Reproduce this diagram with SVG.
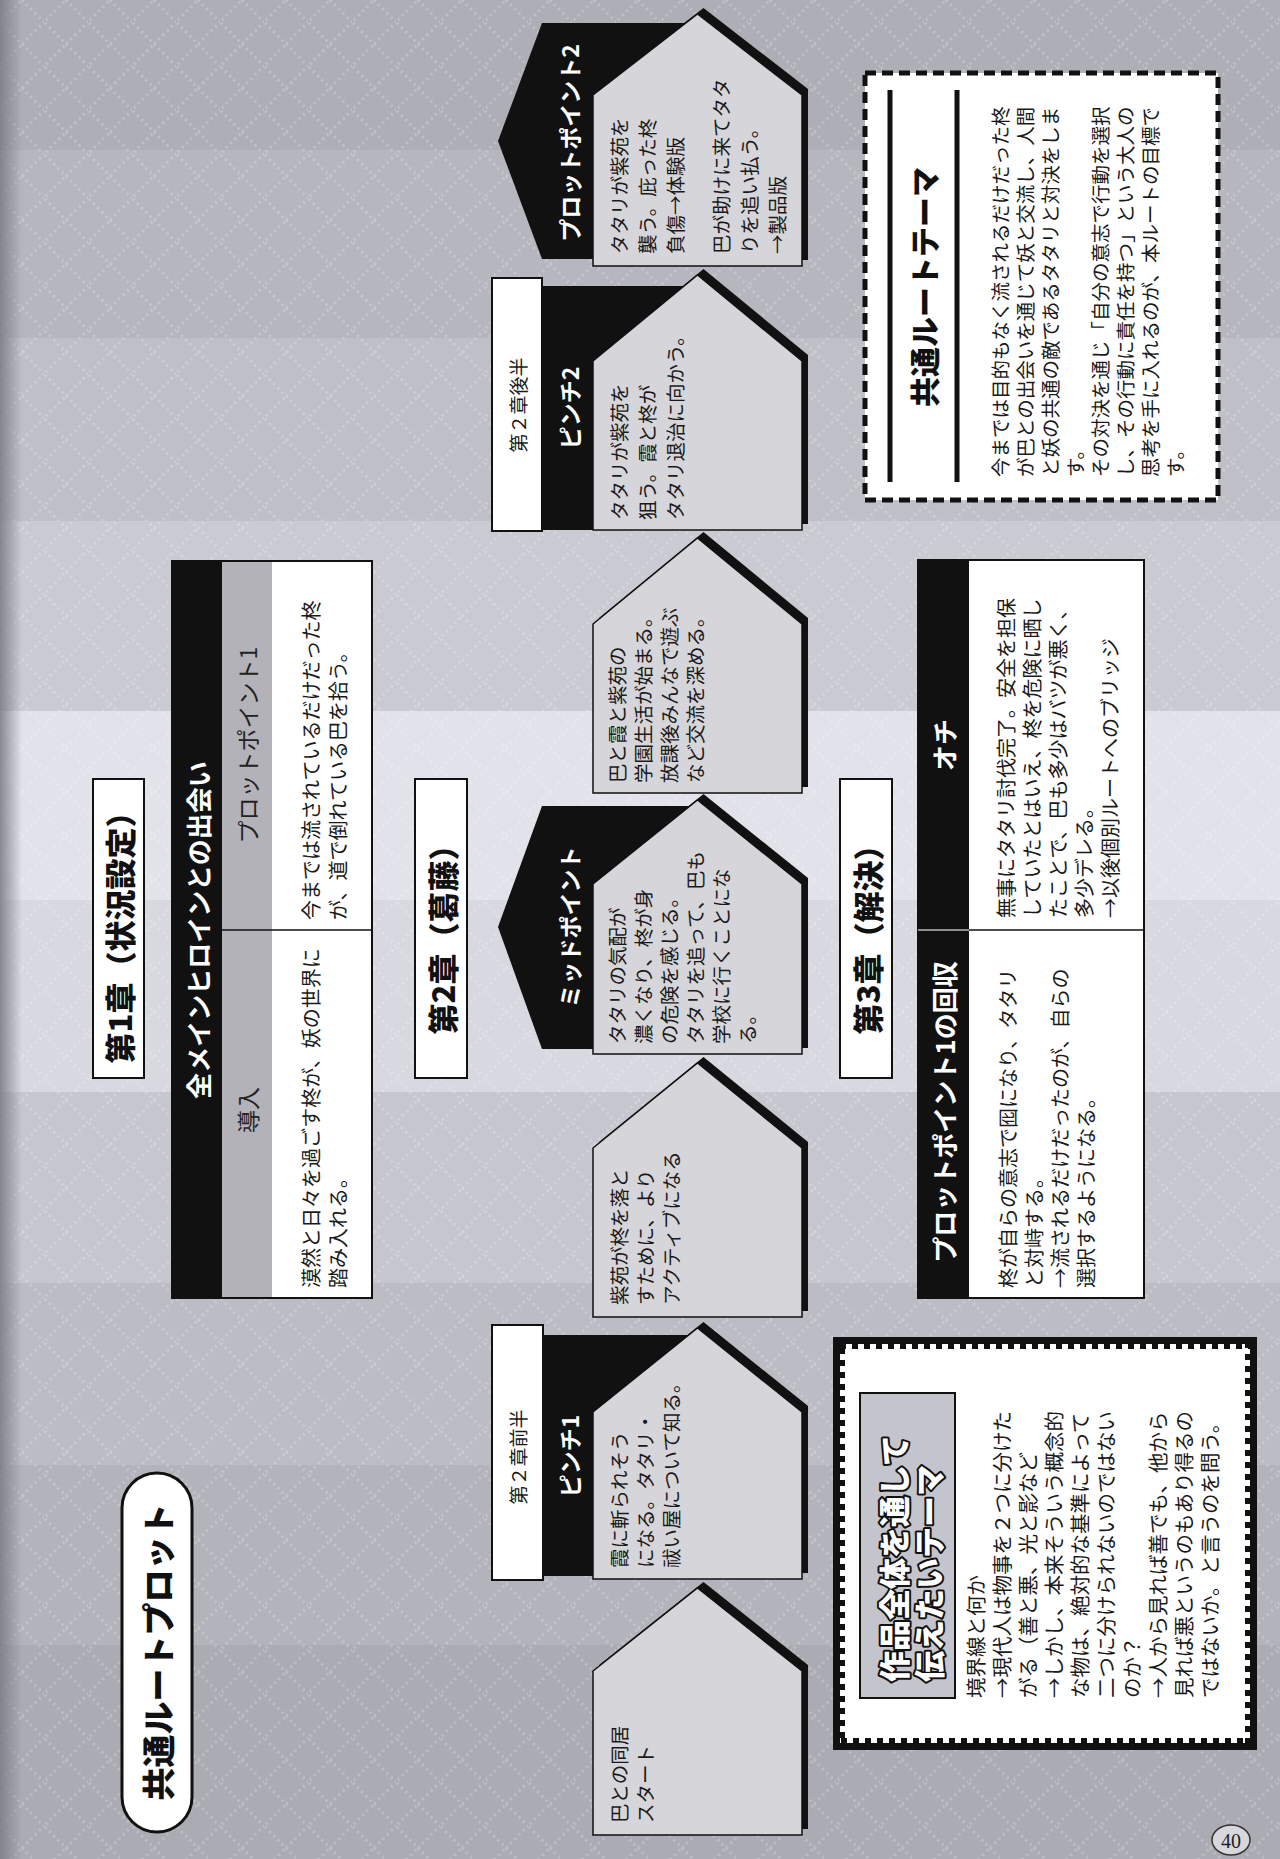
<svg xmlns="http://www.w3.org/2000/svg" width="1280" height="1859" viewBox="0 0 1280 1859">
<defs>
<pattern id="dia" width="44" height="44" patternUnits="userSpaceOnUse">
<path d="M22 0 L44 22 L22 44 L0 22 Z" fill="none" stroke="#ffffff" stroke-opacity="0.22" stroke-width="3" stroke-dasharray="2 4"/>
</pattern>
<linearGradient id="edge" x1="0" y1="0" x2="1" y2="0">
<stop offset="0" stop-color="#7e7e86" stop-opacity="0.9"/>
<stop offset="1" stop-color="#7e7e86" stop-opacity="0"/>
</linearGradient>
</defs>
<style>
text{font-family:"Noto Sans CJK JP","Noto Sans",sans-serif;}
.body{font-size:19.5px;fill:#1a1a1a;dominant-baseline:central;}
.body20{font-size:20px;fill:#1a1a1a;dominant-baseline:central;}
.lab{font-size:23px;font-weight:700;fill:#ffffff;dominant-baseline:central;text-anchor:middle;}
.sub{font-size:19px;fill:#1a1a1a;dominant-baseline:central;text-anchor:middle;}
.chap{font-size:31px;font-weight:900;fill:#111;dominant-baseline:central;text-anchor:middle;}
.gray{font-size:23px;fill:#222;dominant-baseline:central;text-anchor:middle;}
.hfill{fill:#d5d5da;stroke:#111;stroke-width:1.5;}
.shadow{fill:#111;}
.blk{fill:#111;}
.wbox{fill:#ffffff;stroke:#111;stroke-width:2;}
</style>

<!-- background bands -->
<rect x="0" y="0" width="1280" height="150" fill="#aeaeb6"/>
<rect x="0" y="150" width="1280" height="188" fill="#b6b6be"/>
<rect x="0" y="338" width="1280" height="183" fill="#bfbfc7"/>
<rect x="0" y="521" width="1280" height="190" fill="#cacad2"/>
<rect x="0" y="711" width="1280" height="189" fill="#e2e2ea"/>
<rect x="0" y="900" width="1280" height="192" fill="#d8d8e0"/>
<rect x="0" y="1092" width="1280" height="191" fill="#c6c6ce"/>
<rect x="0" y="1283" width="1280" height="182" fill="#bcbcc4"/>
<rect x="0" y="1465" width="1280" height="180" fill="#b3b3bb"/>
<rect x="0" y="1645" width="1280" height="214" fill="#ababb3"/>
<rect x="0" y="0" width="1280" height="1859" fill="url(#dia)"/>
<rect x="0" y="0" width="22" height="1859" fill="url(#edge)"/>

<!-- title pill -->
<g id="title">
<rect x="122" y="1473" width="70" height="359" rx="35" fill="#ffffff" stroke="#111" stroke-width="3"/>
<text transform="translate(157,1652) rotate(-90)" style="font-size:33px;font-weight:900;fill:#111;dominant-baseline:central;text-anchor:middle;">共通ルートプロット</text>
</g>

<!-- chapter heading boxes -->
<g id="chap1">
<rect class="wbox" x="93" y="779" width="51" height="299"/>
<text class="chap" transform="translate(118.5,930) rotate(-90)">第1章（状況設定）</text>
</g>
<g id="chap2">
<rect class="wbox" x="415" y="779" width="52" height="299"/>
<text class="chap" transform="translate(441,932) rotate(-90)">第2章（葛藤）</text>
</g>
<g id="chap3">
<rect class="wbox" x="840" y="779" width="52" height="299"/>
<text class="chap" transform="translate(866,932) rotate(-90)">第3章（解決）</text>
</g>

<!-- chapter 1 table -->
<g id="table1">
<rect x="172" y="561" width="200" height="737" fill="#ffffff" stroke="#111" stroke-width="2"/>
<rect x="172" y="561" width="50" height="737" fill="#111"/>
<rect x="222" y="562" width="50" height="735" fill="#b2b2b8"/>
<line x1="222" y1="930" x2="372" y2="930" stroke="#111" stroke-width="1.5"/>
<text class="lab" style="font-size:26px" transform="translate(197,930) rotate(-90)">全メインヒロインとの出会い</text>
<text class="gray" transform="translate(247,745) rotate(-90)">プロットポイント1</text>
<text class="gray" transform="translate(247,1110) rotate(-90)">導入</text>
<text class="body20" transform="translate(310,920) rotate(-90)"><tspan x="0" y="0">今までは流されているだけだった柊</tspan><tspan x="0" y="27">が、道で倒れている巴を拾う。</tspan></text>
<text class="body20" transform="translate(310,1288) rotate(-90)"><tspan x="0" y="0">漠然と日々を過ごす柊が、妖の世界に</tspan><tspan x="0" y="27">踏み入れる。</tspan></text>
</g>

<!-- chapter 3 table -->
<g id="table3">
<rect x="918" y="560" width="226" height="738" fill="#ffffff" stroke="#111" stroke-width="2"/>
<rect x="918" y="560" width="51" height="738" fill="#111"/>
<line x1="918" y1="930" x2="969" y2="930" stroke="#bbbbbb" stroke-width="1.5"/>
<line x1="969" y1="930" x2="1144" y2="930" stroke="#111" stroke-width="1.5"/>
<text class="lab" style="font-size:26px" transform="translate(943.5,745) rotate(-90)">オチ</text>
<text class="lab" style="font-size:26px" transform="translate(943.5,1112) rotate(-90)">プロットポイント1の回収</text>
<text class="body20" transform="translate(1005,918) rotate(-90)"><tspan x="0" y="0">無事にタタリ討伐完了。安全を担保</tspan><tspan x="0" y="26">していたとはいえ、柊を危険に晒し</tspan><tspan x="0" y="52">たことで、巴も多少はバツが悪く、</tspan><tspan x="0" y="78">多少デレる。</tspan><tspan x="0" y="104">→以後個別ルートへのブリッジ</tspan></text>
<text class="body20" transform="translate(1007,1288) rotate(-90)"><tspan x="0" y="0">柊が自らの意志で囮になり、タタリ</tspan><tspan x="0" y="26">と対峙する。</tspan><tspan x="0" y="52">→流されるだけだったのが、自らの</tspan><tspan x="0" y="78">選択するようになる。</tspan></text>
</g>

<!-- tabs -->
<g id="tab-pp2">
<polygon class="blk" points="498,141 542,23 697,23 697,259 542,259"/>
<text class="lab" transform="translate(569,143) rotate(-90)">プロットポイント2</text>
</g>
<g id="tab-pinch2">
<rect class="blk" x="542" y="286" width="155" height="244"/>
<rect class="wbox" x="492" y="278" width="50" height="253"/>
<text class="sub" transform="translate(517,405) rotate(-90)">第２章後半</text>
<text class="lab" transform="translate(569,408) rotate(-90)">ピンチ2</text>
</g>
<g id="tab-mid">
<polygon class="blk" points="498,927 542,806 697,806 697,1049 542,1049"/>
<text class="lab" transform="translate(569,927) rotate(-90)">ミッドポイント</text>
</g>
<g id="tab-pinch1">
<rect class="blk" x="543" y="1335" width="154" height="241"/>
<rect class="wbox" x="492" y="1325" width="51" height="255"/>
<text class="sub" transform="translate(517.5,1457) rotate(-90)">第２章前半</text>
<text class="lab" transform="translate(569,1456) rotate(-90)">ピンチ1</text>
</g>

<!-- houses -->
<g id="house-pp2">
<path class="shadow" transform="translate(6,-6)" d="M593,266 L593,95 L697.5,14 L802,95 L802,266 Z"/>
<path class="hfill" d="M593,266 L593,95 L697.5,14 L802,95 L802,266 Z"/>
<text class="body" transform="translate(618,254) rotate(-90)"><tspan x="0" y="0">タタリが紫苑を</tspan><tspan x="0" y="28">襲う。庇った柊</tspan><tspan x="0" y="56">負傷→体験版</tspan><tspan x="0" y="102">巴が助けに来てタタ</tspan><tspan x="0" y="130">りを追い払う。</tspan><tspan x="0" y="158">→製品版</tspan></text>
</g>
<g id="house-pinch2">
<path class="shadow" transform="translate(6,-6)" d="M593,530 L593,361 L697.5,275 L802,361 L802,530 Z"/>
<path class="hfill" d="M593,530 L593,361 L697.5,275 L802,361 L802,530 Z"/>
<text class="body" transform="translate(618,520) rotate(-90)"><tspan x="0" y="0">タタリが紫苑を</tspan><tspan x="0" y="28">狙う。霞と柊が</tspan><tspan x="0" y="56">タタリ退治に向かう。</tspan></text>
</g>
<g id="house-school">
<path class="shadow" transform="translate(6,-6)" d="M593,793 L593,624 L697.5,538 L802,624 L802,793 Z"/>
<path class="hfill" d="M593,793 L593,624 L697.5,538 L802,624 L802,793 Z"/>
<text class="body" transform="translate(616,783) rotate(-90)"><tspan x="0" y="0">巴と霞と紫苑の</tspan><tspan x="0" y="26">学園生活が始まる。</tspan><tspan x="0" y="52">放課後みんなで遊ぶ</tspan><tspan x="0" y="78">など交流を深める。</tspan></text>
</g>
<g id="house-mid">
<path class="shadow" transform="translate(6,-6)" d="M593,1054 L593,884 L697.5,800 L802,884 L802,1054 Z"/>
<path class="hfill" d="M593,1054 L593,884 L697.5,800 L802,884 L802,1054 Z"/>
<text class="body" transform="translate(616,1044) rotate(-90)"><tspan x="0" y="0">タタリの気配が</tspan><tspan x="0" y="26">濃くなり、柊が身</tspan><tspan x="0" y="52">の危険を感じる。</tspan><tspan x="0" y="78">タタリを追って、巴も</tspan><tspan x="0" y="104">学校に行くことにな</tspan><tspan x="0" y="130">る。</tspan></text>
</g>
<g id="house-shion">
<path class="shadow" transform="translate(6,-6)" d="M593,1317 L593,1148 L697.5,1063 L802,1148 L802,1317 Z"/>
<path class="hfill" d="M593,1317 L593,1148 L697.5,1063 L802,1148 L802,1317 Z"/>
<text class="body" transform="translate(618,1305) rotate(-90)"><tspan x="0" y="0">紫苑が柊を落と</tspan><tspan x="0" y="26">すために、より</tspan><tspan x="0" y="52">アクティブになる</tspan></text>
</g>
<g id="house-pinch1">
<path class="shadow" transform="translate(6,-6)" d="M593,1579 L593,1412 L697.5,1328 L802,1412 L802,1579 Z"/>
<path class="hfill" d="M593,1579 L593,1412 L697.5,1328 L802,1412 L802,1579 Z"/>
<text class="body" transform="translate(618,1568) rotate(-90)"><tspan x="0" y="0">霞に斬られそう</tspan><tspan x="0" y="26">になる。タタリ・</tspan><tspan x="0" y="52">祓い屋について知る。</tspan></text>
</g>
<g id="house-start">
<path class="shadow" transform="translate(6,-6)" d="M593,1835 L593,1671 L697.5,1588 L802,1671 L802,1835 Z"/>
<path class="hfill" d="M593,1835 L593,1671 L697.5,1588 L802,1671 L802,1835 Z"/>
<text class="body" transform="translate(618,1823) rotate(-90)"><tspan x="0" y="0">巴との同居</tspan><tspan x="0" y="26">スタート</tspan></text>
</g>

<!-- common route theme -->
<g id="route-theme">
<rect x="865" y="73" width="353" height="427" fill="#ffffff" stroke="#111" stroke-width="5" stroke-dasharray="11 6"/>
<rect x="887.5" y="90" width="5" height="392" fill="#111"/>
<rect x="954.5" y="90" width="5" height="392" fill="#111"/>
<text transform="translate(923,287) rotate(-90)" style="font-size:30px;font-weight:900;fill:#111;dominant-baseline:central;text-anchor:middle;">共通ルートテーマ</text>
<text class="body" transform="translate(999,477) rotate(-90)"><tspan x="0" y="0">今までは目的もなく流されるだけだった柊</tspan><tspan x="0" y="25">が巴との出会いを通じて妖と交流し、人間</tspan><tspan x="0" y="50">と妖の共通の敵であるタタリと対決をしま</tspan><tspan x="0" y="75">す。</tspan><tspan x="0" y="100">その対決を通じ「自分の意志で行動を選択</tspan><tspan x="0" y="125">し、その行動に責任を持つ」という大人の</tspan><tspan x="0" y="150">思考を手に入れるのが、本ルートの目標で</tspan><tspan x="0" y="175">す。</tspan></text>
</g>

<!-- whole work theme -->
<g id="work-theme">
<rect x="833" y="1337" width="424" height="413" fill="#111"/>
<rect x="840" y="1344" width="410" height="399" fill="#ffffff"/>
<rect x="840" y="1344" width="410" height="399" fill="none" stroke="#111" stroke-width="10" stroke-dasharray="6 6"/>
<rect x="860" y="1393" width="95" height="305" fill="#c4c4cc" stroke="#111" stroke-width="2"/>
<text transform="translate(892,1682) rotate(-90)" style="font-size:31px;font-weight:900;fill:#ffffff;stroke:#111;stroke-width:4;paint-order:stroke;stroke-linejoin:round;dominant-baseline:central;"><tspan x="0" y="0">作品全体を通して</tspan><tspan x="0" y="35">伝えたいテーマ</tspan></text>
<text class="body20" style="font-size:20.5px" transform="translate(975,1698) rotate(-90)"><tspan x="0" y="0">境界線と何か</tspan><tspan x="0" y="26">→現代人は物事を２つに分けた</tspan><tspan x="0" y="52">がる（善と悪、光と影など</tspan><tspan x="0" y="78">→しかし、本来そういう概念的</tspan><tspan x="0" y="104">な物は、絶対的な基準によって</tspan><tspan x="0" y="130">二つに分けられないのではない</tspan><tspan x="0" y="156">のか？</tspan><tspan x="0" y="182">→人から見れば善でも、他から</tspan><tspan x="0" y="208">見れば悪というのもあり得るの</tspan><tspan x="0" y="234">ではないか。と言うのを問う。</tspan></text>
</g>

<!-- page number -->
<g id="page-no">
<ellipse cx="1231" cy="1840" rx="19" ry="15" fill="#d8d8dc" stroke="#333" stroke-width="1.5"/>
<text x="1231" y="1841" style="font-family:'Liberation Serif',serif;font-size:20px;fill:#222;dominant-baseline:central;text-anchor:middle;">40</text>
</g>

<g id="connectors"></g>
</svg>
